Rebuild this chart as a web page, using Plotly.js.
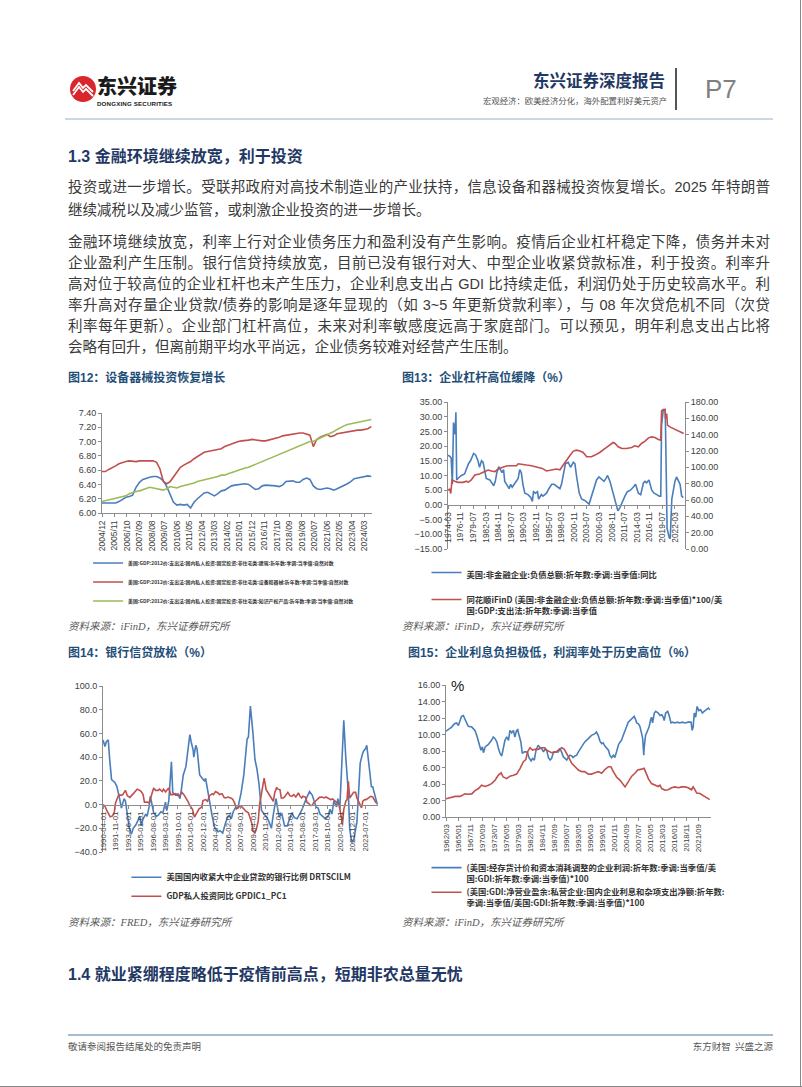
<!DOCTYPE html>
<html><head><meta charset="utf-8">
<script src="https://cdn.plot.ly/plotly-3.0.1.min.js"></script>
<style>
body{margin:0;background:#fff;}
#page{position:relative;width:802px;height:1087px;overflow:hidden;background:#fff;font-family:"Liberation Sans","Noto Sans CJK SC",sans-serif;}
.t{position:absolute;white-space:nowrap;line-height:1.2;}
.body{position:absolute;left:68px;width:702px;font-size:14.5px;color:#3a3a3a;white-space:nowrap;text-align:justify;text-align-last:justify;line-height:20px;height:20px;}
.last{text-align-last:left;}
.h2{font-size:16px;font-weight:bold;color:#1F3864;}
.fig{font-size:12px;font-weight:bold;color:#1F4E79;}
.src{font-size:10.5px;font-style:italic;color:#595959;font-family:"Liberation Serif","Noto Sans CJK SC",serif;}
.chart{position:absolute;}
</style></head>
<body>
<div id="page">
  <!-- header -->
  <svg style="position:absolute;left:69px;top:75px" width="28" height="28" viewBox="0 0 28 28">
    <circle cx="14" cy="14" r="13" fill="#D9262C"/>
    <path d="M4 16 L10 8 L14 13 L17 10 L24 17" stroke="#fff" stroke-width="1.8" fill="none"/>
    <path d="M4 20 L10 12 L14 17 L17 14 L24 21" stroke="#fff" stroke-width="1.8" fill="none"/>
  </svg>
  <div class="t" style="left:97px;top:76px;font-size:20px;line-height:20px;font-weight:900;color:#1a1a1a;font-family:'Noto Sans CJK SC';">东兴证券</div>
  <div class="t" style="left:97px;top:100.5px;font-size:6.2px;line-height:6.5px;font-weight:bold;color:#1a1a1a;letter-spacing:0.15px;">DONGXING SECURITIES</div>
  <div class="t" style="left:533px;top:71px;font-size:16.5px;font-weight:bold;color:#1F3864;font-family:'Noto Sans CJK SC';">东兴证券深度报告</div>
  <div class="t" style="left:483px;top:95px;font-size:8.4px;color:#555;font-family:'Noto Sans CJK SC';">宏观经济：欧美经济分化，海外配置利好美元资产</div>
  <div style="position:absolute;left:675px;top:68px;width:1.5px;height:42px;background:#555;"></div>
  <div class="t" style="left:705px;top:74px;font-size:26px;color:#808080;font-weight:300;">P7</div>
  <div style="position:absolute;left:65px;top:118px;width:708px;height:2px;background:#C9D7E8;"></div>

  <div class="t h2" style="left:68px;top:147px;">1.3 金融环境继续放宽，利于投资</div>

  <div class="body" style="top:177px;">投资或进一步增长。受联邦政府对高技术制造业的产业扶持，信息设备和器械投资恢复增长。2025 年特朗普</div>
  <div class="body last" style="top:200px;">继续减税以及减少监管，或刺激企业投资的进一步增长。</div>

  <div class="body" style="top:232px;">金融环境继续放宽，利率上行对企业债务压力和盈利没有产生影响。疫情后企业杠杆稳定下降，债务并未对</div>
  <div class="body" style="top:253px;">企业盈利产生压制。银行信贷持续放宽，目前已没有银行对大、中型企业收紧贷款标准，利于投资。利率升</div>
  <div class="body" style="top:274px;">高对位于较高位的企业杠杆也未产生压力，企业利息支出占 GDI 比持续走低，利润仍处于历史较高水平。利</div>
  <div class="body" style="top:295px;">率升高对存量企业贷款/债券的影响是逐年显现的（如 3~5 年更新贷款利率），与 08 年次贷危机不同（次贷</div>
  <div class="body" style="top:316px;">利率每年更新）。企业部门杠杆高位，未来对利率敏感度远高于家庭部门。可以预见，明年利息支出占比将</div>
  <div class="body last" style="top:337px;">会略有回升，但离前期平均水平尚远，企业债务较难对经营产生压制。</div>

  <div class="t fig" style="left:68px;top:371px;">图12：设备器械投资恢复增长</div>
  <div class="t fig" style="left:402px;top:371px;">图13：企业杠杆高位缓降（%）</div>
  <div class="t src" style="left:68px;top:621px;">资料来源：iFinD，东兴证券研究所</div>
  <div class="t src" style="left:402px;top:621px;">资料来源：iFinD，东兴证券研究所</div>

  <div class="t fig" style="left:68px;top:646px;">图14：银行信贷放松（%）</div>
  <div class="t fig" style="left:408px;top:646px;">图15：企业利息负担极低，利润率处于历史高位（%）</div>
  <div class="t src" style="left:68px;top:917px;">资料来源：FRED，东兴证券研究所</div>
  <div class="t src" style="left:402px;top:917px;">资料来源：iFinD，东兴证券研究所</div>

  <div class="t h2" style="left:68px;top:965px;">1.4 就业紧绷程度略低于疫情前高点，短期非农总量无忧</div>

  <div style="position:absolute;left:68px;top:1034px;width:705px;height:2px;background:#A7BCD2;"></div>
  <div class="t" style="left:68px;top:1041px;font-size:9.5px;color:#555;font-family:'Noto Sans CJK SC';">敬请参阅报告结尾处的免责声明</div>
  <div class="t" style="right:29px;top:1041px;font-size:9.5px;color:#555;font-family:'Noto Sans CJK SC';">东方财智&nbsp;&nbsp;兴盛之源</div>

  <div style="position:absolute;left:800px;top:0;width:1px;height:1087px;background:#888;"></div>
  <div style="position:absolute;left:0;top:1086px;width:802px;height:1px;background:#888;"></div>

  <div id="c12" class="chart" style="left:50px;top:400px;width:340px;height:225px;"></div>
  <div id="c13" class="chart" style="left:395px;top:395px;width:350px;height:240px;"></div>
  <div id="c14" class="chart" style="left:55px;top:665px;width:340px;height:245px;"></div>
  <div id="c15" class="chart" style="left:395px;top:665px;width:350px;height:255px;"></div>
</div>
<script>
// ---------------- Chart 12 data (quarterly, log levels) ----------------
const c12Start = '2004-12';
const c12Structures = [6.14,6.14,6.14,6.14,6.14,6.16,6.19,6.22,6.23,6.25,
 6.36,6.43,6.47,6.49,6.50,6.51,6.51,6.49,6.45,6.37,
 6.25,6.15,6.11,6.12,6.11,6.12,6.07,6.15,6.20,6.24,
 6.28,6.29,6.27,6.24,6.27,6.31,6.32,6.35,6.38,6.39,
 6.40,6.40,6.41,6.40,6.37,6.33,6.34,6.38,6.39,6.39,
 6.39,6.38,6.37,6.39,6.44,6.45,6.45,6.43,6.43,6.47,
 6.49,6.47,6.38,6.34,6.33,6.34,6.35,6.34,6.32,6.34,
 6.36,6.38,6.41,6.44,6.48,6.49,6.50,6.51,6.52,6.51];
const c12Equipment = [6.58,6.58,6.61,6.63,6.66,6.69,6.71,6.72,6.73,6.72,
 6.72,6.73,6.73,6.74,6.73,6.73,6.71,6.62,6.44,6.41,
 6.44,6.51,6.58,6.64,6.67,6.69,6.72,6.76,6.79,6.82,
 6.85,6.86,6.87,6.89,6.90,6.90,6.93,6.95,6.97,6.99,
 7.00,7.01,7.01,7.02,7.03,7.02,7.01,7.01,7.01,7.02,
 7.03,7.04,7.06,7.08,7.09,7.10,7.10,7.11,7.12,7.12,
 7.11,7.09,6.93,7.03,7.06,7.08,7.10,7.07,7.08,7.11,
 7.12,7.13,7.13,7.14,7.16,7.16,7.16,7.17,7.18,7.21];
const c12IP = [6.16,6.17,6.19,6.20,6.21,6.21,6.22,6.24,6.27,6.29,
 6.30,6.31,6.33,6.35,6.36,6.35,6.34,6.33,6.32,6.34,
 6.37,6.36,6.35,6.37,6.38,6.40,6.41,6.42,6.44,6.45,
 6.46,6.47,6.48,6.49,6.51,6.53,6.53,6.55,6.56,6.58,
 6.60,6.62,6.63,6.64,6.66,6.68,6.71,6.73,6.75,6.76,
 6.78,6.80,6.82,6.84,6.87,6.89,6.91,6.93,6.95,6.97,
 6.99,7.00,7.00,7.03,7.05,7.07,7.09,7.11,7.14,7.17,
 7.20,7.22,7.24,7.25,7.26,7.27,7.28,7.30,7.31,7.31];
const c12Names = ['美国:GDP:2012价:支出法:国内私人投资:固定投资:非住宅类:建筑:折年数:季调:当季值:自然对数',
 '美国:GDP:2012价:支出法:国内私人投资:固定投资:非住宅类:设备和器械:折年数:季调:当季值:自然对数',
 '美国:GDP:2012价:支出法:国内私人投资:固定投资:非住宅类:知识产权产品:折年数:季调:当季值:自然对数'];
const c12TickText = ['2004/12','2005/11','2006/10','2007/09','2008/08','2009/07','2010/06','2011/05','2012/04','2013/03','2014/02','2015/01','2015/12','2016/11','2017/10','2018/09','2019/08','2020/07','2021/06','2022/05','2023/04','2024/03'];

// ---------------- Chart 13 data ----------------
const c13BlueX = ["1974-03","1974-07","1974-11","1975-02","1975-05","1975-07","1975-09","1975-11","1976-01","1976-04","1977-01","1977-09","1978-02","1978-07","1978-12","1979-05","1979-08","1980-01","1980-07","1980-11","1981-04","1981-08","1981-12","1982-04","1983-01","1983-08","1983-11","1984-03","1984-07","1984-12","1985-04","1985-08","1985-12","1986-03","1986-10","1987-02","1987-06","1987-10","1988-03","1988-09","1989-01","1989-05","1989-09","1990-01","1990-06","1991-02","1991-09","1992-01","1992-04","1992-09","1993-02","1993-05","1993-12","1994-04","1995-01","1995-07","1996-02","1996-08","1997-05","1997-11","1998-03","1998-07","1999-01","1999-08","2000-02","2000-09","2001-01","2001-05","2001-12","2002-06","2003-02","2004-01","2004-07","2005-01","2005-08","2006-02","2006-09","2007-03","2007-08","2007-12","2008-06","2008-12","2009-07","2010-02","2010-07","2011-01","2011-08","2012-02","2012-10","2013-05","2013-11","2014-06","2014-12","2015-07","2015-11","2016-03","2016-09","2017-04","2017-10","2018-05","2018-11","2019-03","2019-05","2019-09","2020-02","2020-03","2020-07","2020-12","2021-03","2021-07","2021-11","2022-03","2022-07","2022-12","2023-04","2023-08","2023-12"];
const c13BlueY = [16.9,16.6,16.0,7.0,28.0,25.0,24.0,31.5,8.5,9.0,10.0,10.5,12.5,14.0,15.0,16.5,17.5,17.0,15.0,12.8,15.0,14.5,12.0,9.0,8.5,7.0,6.5,8.0,11.0,13.0,12.0,11.0,12.0,8.0,6.5,5.5,7.0,6.0,7.0,8.0,9.0,12.0,11.0,7.0,4.0,3.5,2.5,1.2,4.5,4.0,4.5,2.0,3.5,3.0,4.0,5.5,7.0,7.0,6.0,5.5,7.0,10.0,14.0,14.5,12.8,14.5,14.0,10.0,4.0,2.0,1.5,0.3,3.0,6.0,8.5,9.5,8.5,8.0,9.0,10.0,8.0,5.0,1.0,-2.0,-1.0,1.0,3.0,4.5,5.0,6.0,7.0,4.0,3.5,7.5,8.0,7.5,8.5,5.0,4.0,3.5,3.0,3.0,27.0,32.0,32.3,27.0,-8.0,-11.0,-11.5,2.0,5.0,8.0,9.5,8.0,7.0,3.0,2.5];
const c13RedX = ["1974-03","1974-07","1974-10","1975-01","1975-08","1976-04","1977-05","1978-02","1978-06","1979-02","1979-11","1980-11","1981-08","1982-09","1983-05","1984-02","1984-10","1985-06","1986-07","1987-08","1988-09","1989-01","1989-09","1990-10","1991-11","1992-12","1994-02","1995-01","1996-02","1997-02","1997-11","1998-07","1999-04","1999-12","2000-09","2001-05","2002-02","2002-10","2003-07","2004-07","2005-04","2006-04","2007-05","2008-06","2009-02","2009-07","2010-03","2010-12","2011-12","2013-01","2013-09","2014-06","2015-02","2015-11","2016-08","2017-04","2017-12","2018-09","2019-03","2019-05","2019-09","2020-02","2020-03","2020-06","2020-08","2021-02","2021-11","2022-07","2023-04","2024-01"];
const c13RedY = [72.3,73,68,84.5,83,81.6,81.6,83,81.6,84.5,90.6,91.8,93.9,96.7,95.5,94.7,97.9,99.5,101.6,102,102,104.4,103.6,102.8,102,100.8,98.7,95.5,96.7,97.9,97,102.8,108.9,114.2,119.9,121,119.9,118.2,112.9,112.9,115,118.2,123,128,130.4,129.2,125.1,123,123,124.3,126.4,125.1,129.2,132,136.1,137.3,136.5,134.1,133.3,169,170.7,171,159.7,165.8,151.6,149.5,147.5,146.3,143.4,141.4];
const c13Names = ['美国:非金融企业:负债总额:折年数:季调:当季值:同比',
 '同花顺iFinD (美国:非金融企业:负债总额:折年数:季调:当季值)*100/美<br>国:GDP:支出法:折年数:季调:当季值'];
const c13TickText = ['1974-03','1976-11','1979-07','1982-03','1984-11','1987-07','1990-03','1992-11','1995-07','1998-03','2000-11','2003-07','2006-03','2008-11','2011-07','2014-03','2016-11','2019-07','2022-03'];

// ---------------- Chart 14 data ----------------
const c14BlueX = ["1990-04","1990-07","1990-09","1990-12","1991-02","1991-05","1991-10","1992-01","1992-05","1992-08","1992-12","1993-02","1993-08","1993-11","1994-02","1994-06","1994-12","1995-02","1995-05","1995-09","1995-11","1996-02","1996-04","1996-06","1996-09","1997-01","1997-04","1997-08","1997-11","1998-03","1998-05","1998-08","1998-12","1999-02","1999-06","1999-10","2000-01","2000-03","2000-06","2000-10","2001-01","2001-04","2001-06","2001-09","2001-10","2002-01","2002-03","2002-07","2002-11","2003-02","2003-04","2003-08","2003-11","2004-02","2004-06","2004-11","2005-02","2005-06","2005-10","2006-02","2006-04","2006-07","2006-10","2007-01","2007-05","2007-10","2008-02","2008-04","2008-07","2008-09","2008-12","2009-04","2009-07","2009-10","2010-01","2010-05","2010-08","2010-12","2011-04","2011-08","2011-11","2012-03","2012-06","2012-08","2012-12","2013-04","2013-08","2013-12","2014-03","2014-07","2014-11","2015-03","2015-06","2016-01","2016-04","2016-06","2016-10","2017-01","2017-04","2017-07","2017-10","2018-02","2018-06","2018-10","2019-01","2019-04","2019-07","2019-11","2020-01","2020-04","2020-07","2020-10","2021-01","2021-05","2021-07","2021-10","2022-01","2022-04","2022-06","2022-09","2022-11","2023-02","2023-04","2023-07","2023-09","2024-01","2024-04","2024-06","2024-10","2025-01"];
const c14BlueY = [54.5,49,53,54.5,39,21,18.7,15.4,5.6,-3,5,3,-20,-25,-20,-17,-10,-18,-12,-8,-10,-2,7,0,-7,-10,-9,-6,-7,2,-5,3,36,10,8,9,5,12,25,32,45,59,53,46,40,50,47,25,22,20,22,8,0,-10,-20,-23,-22,-24,-16,-10,-9,-12,-6,-3,-3,10,25,40,55,57,83,60,38,30,18,-5,-7,-10,-14,-20,-8,5,-5,-10,-8,-18,-18,-12,-7,-11,-12,-8,-5,5,8,11,8,2,-2,-3,-8,-10,-12,-10,-4,-8,3,-2,5,-3,40,71,40,10,-20,-32,-30,-22,-15,15,35,42,45,47,50,30,15,15,5,0];
const c14RedX = ["1990-04","1990-07","1990-09","1991-01","1991-03","1991-06","1991-09","1991-11","1992-02","1992-04","1992-08","1992-10","1993-02","1993-05","1993-09","1994-01","1994-04","1994-08","1994-12","1995-02","1995-05","1995-07","1995-11","1996-02","1996-06","1996-09","1996-12","1997-04","1997-06","1997-10","1997-12","1998-03","1998-05","1998-08","1998-11","1999-02","1999-06","1999-10","2000-01","2000-04","2000-07","2000-10","2001-01","2001-04","2001-08","2001-11","2002-02","2002-06","2002-10","2002-12","2003-04","2003-07","2003-10","2004-02","2004-04","2004-07","2004-11","2005-01","2005-05","2005-08","2005-10","2006-02","2006-06","2006-09","2006-12","2007-03","2007-06","2007-10","2008-02","2008-05","2008-09","2008-11","2009-02","2009-04","2009-07","2009-09","2009-12","2010-02","2010-06","2010-09","2010-12","2011-03","2011-05","2011-08","2011-11","2012-01","2012-04","2012-06","2012-09","2012-11","2013-02","2013-04","2013-07","2013-09","2013-12","2014-03","2014-06","2014-09","2015-01","2015-03","2015-06","2015-08","2015-12","2016-02","2016-05","2016-07","2016-10","2016-12","2017-03","2017-06","2017-09","2018-01","2018-04","2018-07","2018-10","2019-02","2019-05","2019-08","2019-12","2020-03","2020-05","2020-08","2020-10","2021-01","2021-03","2021-05","2021-07","2021-10","2022-01","2022-04","2022-06","2022-09","2023-01","2023-03","2023-06","2023-08","2023-11","2024-03","2024-06","2024-08","2024-11"];
const c14RedY = [0,-1.4,-4,-8.4,-10.3,-9.8,-7,1.4,5.6,8.4,7.8,8.4,12,7.5,6.1,8.4,10.3,13,12,11,8.4,2,2.2,1.4,8.4,14,12,12,13,11,13,10.6,12,14,8.4,8.4,9.2,7.5,7.8,10.3,8.4,6.1,2.8,-0.8,-4,-10.6,-7,-3.6,-2.2,3.4,4.2,2.8,7.5,9.2,8.4,11,9.8,8.4,9.2,6.1,5.6,6.4,5.6,4.7,1.4,-3.6,-2,-1.4,-3.6,-5.6,-7,-9.8,-15.4,-22.3,-23.7,-21,-14,0,12.6,22.3,12.6,9.8,7.5,5.6,2.8,9.8,14.5,13,12.6,5.6,5.6,6.4,8.4,10.3,7.5,7,8.4,6.4,9.8,7.5,5.6,7,6.1,2,0.8,-0.8,-0.6,1.4,2.8,4.7,6.1,6.4,5.6,6.4,5.6,4.2,4.7,3.6,1.4,0,-5.6,-16.8,-4,2.8,4.2,19.6,5.6,8.4,10.3,10.3,5.6,2,-2.8,2.8,4.2,4.2,5.6,7,6.4,4.7,1.4];
const c14Names = ['美国国内收紧大中企业贷款的银行比例 DRTSCILM','GDP私人投资同比 GPDIC1_PC1'];
const c14TickText = ['1990-04-01','1991-11-01','1993-06-01','1995-01-01','1996-08-01','1998-03-01','1999-10-01','2001-05-01','2002-12-01','2004-07-01','2006-02-01','2007-09-01','2009-04-01','2010-11-01','2012-06-01','2014-01-01','2015-08-01','2017-03-01','2018-10-01','2020-05-01','2021-12-01','2023-07-01'];

// ---------------- Chart 15 data ----------------
const c15BlueX = ["1962-01","1962-08","1963-05","1964-01","1964-07","1964-12","1965-05","1965-09","1966-02","1966-07","1966-12","1967-04","1968-02","1968-11","1969-04","1969-09","1970-01","1970-04","1970-08","1970-11","1971-04","1972-01","1972-10","1973-03","1973-08","1974-01","1974-05","1974-10","1975-03","1975-07","1975-12","1976-05","1976-10","1977-02","1977-07","1977-12","1978-04","1978-09","1978-12","1979-04","1979-09","1980-01","1980-07","1980-12","1981-04","1981-08","1982-02","1982-06","1982-11","1983-04","1983-10","1984-03","1984-08","1985-01","1985-05","1985-10","1986-03","1986-08","1986-12","1987-05","1987-10","1988-02","1988-07","1988-12","1989-05","1989-09","1990-02","1990-07","1990-11","1991-04","1991-09","1992-01","1992-06","1992-11","1993-04","1994-01","1994-10","1995-08","1996-05","1997-03","1997-07","1997-12","1998-05","1998-10","1999-02","1999-07","2000-05","2000-09","2001-02","2001-07","2001-11","2002-04","2002-09","2003-02","2003-06","2003-11","2004-04","2004-08","2005-01","2005-06","2006-01","2006-06","2006-10","2007-01","2007-06","2007-10","2008-03","2008-06","2008-09","2008-10","2009-02","2009-07","2009-12","2010-04","2010-07","2010-10","2011-03","2011-07","2012-02","2012-07","2012-12","2013-04","2013-07","2013-11","2014-05","2014-09","2015-02","2015-07","2016-01","2016-09","2017-03","2017-10","2018-06","2019-03","2019-11","2020-02","2020-05","2020-08","2020-12","2021-04","2021-09","2022-02","2022-07","2022-12","2023-07","2023-12","2024-04"];
const c15BlueY = [10.4,10.6,10.9,11.3,11.4,11.1,11.8,12.2,12.3,11.9,11.3,11.0,10.9,10.5,9.9,9.1,8.3,8.1,8.5,7.8,8.5,8.8,9.3,9.7,9.5,9.1,8.4,7.7,7.4,8.3,9.3,9.7,9.3,10.5,10.2,10.5,9.7,10.5,10.6,9.9,9.1,7.7,7.9,7.9,7.8,7.2,6.8,7.1,6.9,8.1,8.7,8.4,8.3,7.9,8.2,8.1,7.2,6.9,7.1,7.8,7.9,7.9,7.9,8.3,7.8,7.3,7.1,6.9,7.2,7.5,7.4,7.2,7.4,7.5,7.9,8.5,9.1,9.5,9.9,10.1,10.3,9.9,9.2,8.9,9.0,8.6,8.1,7.5,7.2,7.5,7.2,7.9,8.7,9.1,9.3,9.9,10.6,10.9,11.5,11.7,12.1,12.2,11.8,11.4,11.3,11.0,10.1,9.5,7.5,8.3,9.9,10.5,10.9,11.7,12.1,11.4,12.6,12.8,12.6,12.3,12.4,12.1,11.7,12.6,12.8,12.3,11.4,11.5,11.4,11.5,11.4,11.5,11.4,11.5,11.5,10.5,10.9,12.6,12.1,13.4,12.9,13.0,12.6,12.8,13.0,13.2,13.0];
const c15RedX = ["1962-01","1962-12","1964-03","1965-05","1966-07","1967-04","1968-02","1968-11","1969-09","1970-06","1971-04","1972-01","1972-10","1973-08","1974-05","1975-01","1975-07","1976-05","1977-02","1977-12","1978-09","1979-07","1980-04","1980-11","1981-04","1981-11","1982-06","1983-01","1983-10","1984-08","1985-05","1985-10","1986-05","1986-12","1987-08","1988-02","1988-09","1989-05","1989-12","1990-07","1991-01","1991-09","1992-06","1993-04","1994-01","1994-10","1995-08","1996-05","1997-03","1997-12","1998-10","1999-07","2000-05","2000-12","2001-07","2002-04","2003-02","2003-11","2004-04","2005-01","2005-11","2006-08","2007-04","2008-03","2008-10","2009-02","2009-10","2010-07","2011-05","2012-02","2012-07","2012-12","2013-09","2014-06","2015-04","2016-01","2016-11","2017-08","2018-06","2019-03","2019-12","2020-05","2020-10","2021-03","2021-12","2022-09","2023-07","2024-04"];
const c15RedY = [2.2,2.35,2.5,2.5,2.8,2.75,2.8,3.2,3.45,3.85,3.7,3.85,4.05,4.45,5.05,5.35,4.85,4.65,4.95,5.05,5.2,5.9,6.7,6.95,7.9,8.4,8.1,8.2,8.2,8.4,8.4,8.1,7.9,7.8,7.9,7.9,8.2,8.4,8.2,7.7,7.2,6.5,6.1,5.7,5.5,5.5,5.2,5.2,5.35,5.5,5.3,5.75,6.1,6.1,5.5,4.85,4.45,3.85,3.65,4.25,4.95,5.3,5.7,5.8,5.9,5.5,4.65,4.05,3.85,3.7,3.85,3.45,3.25,3.3,3.55,3.65,3.55,3.65,3.65,3.55,3.3,3.65,3.3,2.9,2.85,2.6,2.35,2.1];
const c15Names = ['(美国:经存货计价和资本消耗调整的企业利润:折年数:季调:当季值/美<br>国:GDI:折年数:季调:当季值)*100',
 '(美国:GDI:净营业盈余:私营企业:国内企业利息和杂项支出净额:折年数:<br>季调:当季值/美国:GDI:折年数:季调:当季值)*100'];
const c15TickText = ['1962/03','1965/01','1967/11','1970/09','1973/07','1976/05','1979/03','1982/01','1984/11','1987/09','1990/07','1993/05','1996/03','1999/01','2001/11','2004/09','2007/07','2010/05','2013/03','2016/01','2018/11','2021/09'];

// ---------------- helpers ----------------
const BLUE = '#4A7EBB', RED = '#C0504D', GREEN = '#9BBB59';
const slashToDate = s => s.replace('/', '-') + '-01';
function quarterDates(start, n) {
  const [y0, m0] = start.split('-').map(Number);
  const out = [];
  for (let i = 0; i < n; i++) {
    const idx = (m0 - 1) + 3 * i;
    const y = y0 + Math.floor(idx / 12), m = idx % 12 + 1;
    out.push(y + '-' + String(m).padStart(2, '0') + '-01');
  }
  return out;
}
const tickFont = {family: 'Liberation Sans, Arial, sans-serif', size: 9, color: '#404040'};
const axisBase = {showgrid: false, zeroline: false, showline: true, linecolor: '#8C8C8C', linewidth: 1,
  ticks: 'outside', ticklen: 3, tickcolor: '#8C8C8C', tickfont: tickFont, fixedrange: true};
const legendFont = {family: 'Noto Sans CJK SC, sans-serif', size: 8.3, color: '#333', weight: 'bold'};
const cfg = {staticPlot: true, displayModeBar: false};
const lineW = 1.6;

// ---------------- Chart 12 ----------------
const c12Dates = quarterDates(c12Start, c12Structures.length);
Plotly.newPlot('c12', [
  {x: c12Dates, y: c12Structures, name: c12Names[0], type: 'scatter', mode: 'lines', line: {color: BLUE, width: lineW}},
  {x: c12Dates, y: c12Equipment, name: c12Names[1], type: 'scatter', mode: 'lines', line: {color: RED, width: lineW}},
  {x: c12Dates, y: c12IP, name: c12Names[2], type: 'scatter', mode: 'lines', line: {color: GREEN, width: lineW}}
], {
  width: 340, height: 225, margin: {l: 52, r: 18, t: 13, b: 112, autoexpand: false},
  paper_bgcolor: 'rgba(0,0,0,0)', plot_bgcolor: 'rgba(0,0,0,0)',
  xaxis: Object.assign({}, axisBase, {type: 'date', range: ['2004-12-01', '2024-09-20'],
    tickmode: 'array', tickvals: c12TickText.map(slashToDate), ticktext: c12TickText, tickangle: -90,
    tickfont: Object.assign({}, tickFont, {size: 8.5})}),
  yaxis: Object.assign({}, axisBase, {range: [6, 7.4], dtick: 0.2, tickformat: '.2f'}),
  showlegend: true,
  legend: {xref: 'container', yref: 'container', x: 0.112, y: 0.34, xanchor: 'left', yanchor: 'top',
    font: Object.assign({}, legendFont, {size: 4.9}), bgcolor: 'rgba(0,0,0,0)', tracegroupgap: 0}
}, cfg);

// ---------------- Chart 13 ----------------
Plotly.newPlot('c13', [
  {x: c13BlueX, y: c13BlueY, name: c13Names[0], legendgroup: 'a', type: 'scatter', mode: 'lines', line: {color: BLUE, width: lineW}, yaxis: 'y'},
  {x: c13RedX, y: c13RedY, name: c13Names[1], legendgroup: 'b', type: 'scatter', mode: 'lines', line: {color: RED, width: lineW}, yaxis: 'y2'}
], {
  width: 350, height: 240, margin: {l: 53, r: 60, t: 7, b: 86, autoexpand: false},
  paper_bgcolor: 'rgba(0,0,0,0)', plot_bgcolor: 'rgba(0,0,0,0)',
  xaxis: Object.assign({}, axisBase, {type: 'date', range: ['1974-03-01', '2024-04-15'], anchor: 'free', position: 0.3,
    tickmode: 'array', tickvals: c13TickText.map(s => s + '-01'), ticktext: c13TickText, tickangle: -90,
    tickfont: Object.assign({}, tickFont, {size: 8.3})}),
  yaxis: Object.assign({}, axisBase, {range: [-15, 35], dtick: 5, tickformat: '.2f'}),
  yaxis2: Object.assign({}, axisBase, {range: [0, 180], dtick: 20, tickformat: '.2f', overlaying: 'y', side: 'right'}),
  showlegend: true,
  legend: {xref: 'container', yref: 'container', x: 0.09, y: 0.31, xanchor: 'left', yanchor: 'top', valign: 'top',
    font: legendFont, bgcolor: 'rgba(0,0,0,0)', tracegroupgap: 8}
}, cfg);

// ---------------- Chart 14 ----------------
Plotly.newPlot('c14', [
  {x: c14BlueX, y: c14BlueY, name: c14Names[0], type: 'scatter', mode: 'lines', line: {color: BLUE, width: lineW}},
  {x: c14RedX, y: c14RedY, name: c14Names[1], type: 'scatter', mode: 'lines', line: {color: RED, width: lineW}}
], {
  width: 340, height: 245, margin: {l: 48, r: 17, t: 21, b: 58, autoexpand: false},
  paper_bgcolor: 'rgba(0,0,0,0)', plot_bgcolor: 'rgba(0,0,0,0)',
  xaxis: Object.assign({}, axisBase, {type: 'date', range: ['1990-04-01', '2025-02-01'], anchor: 'free', position: 40 / 140,
    tickmode: 'array', tickvals: c14TickText, ticktext: c14TickText, tickangle: -90,
    tickfont: Object.assign({}, tickFont, {size: 7.8})}),
  yaxis: Object.assign({}, axisBase, {range: [-40, 100], dtick: 20, tickformat: '.1f'}),
  showlegend: true,
  legend: {xref: 'container', yref: 'container', x: 0.21, y: 0.193, xanchor: 'left', yanchor: 'top',
    font: legendFont, bgcolor: 'rgba(0,0,0,0)'}
}, cfg);

// ---------------- Chart 15 ----------------
Plotly.newPlot('c15', [
  {x: c15BlueX, y: c15BlueY, name: c15Names[0], type: 'scatter', mode: 'lines', line: {color: BLUE, width: lineW}},
  {x: c15RedX, y: c15RedY, name: c15Names[1], type: 'scatter', mode: 'lines', line: {color: RED, width: lineW}}
], {
  width: 350, height: 255, margin: {l: 51, r: 34, t: 20, b: 103, autoexpand: false},
  paper_bgcolor: 'rgba(0,0,0,0)', plot_bgcolor: 'rgba(0,0,0,0)',
  xaxis: Object.assign({}, axisBase, {type: 'date', range: ['1962-01-01', '2024-07-15'],
    tickmode: 'array', tickvals: c15TickText.map(slashToDate), ticktext: c15TickText, tickangle: -90,
    tickfont: Object.assign({}, tickFont, {size: 7.8})}),
  yaxis: Object.assign({}, axisBase, {range: [0, 16], dtick: 2, tickformat: '.2f'}),
  annotations: [{xref: 'paper', yref: 'paper', x: 0.01, y: 1, xanchor: 'left', yanchor: 'middle', text: '%',
    showarrow: false, font: {family: 'Liberation Sans, Arial', size: 15, color: '#222'}}],
  showlegend: true,
  legend: {xref: 'container', yref: 'container', x: 0.09, y: 0.252, xanchor: 'left', yanchor: 'top', valign: 'top',
    font: legendFont, bgcolor: 'rgba(0,0,0,0)'}
}, cfg);
</script>
</body></html>
